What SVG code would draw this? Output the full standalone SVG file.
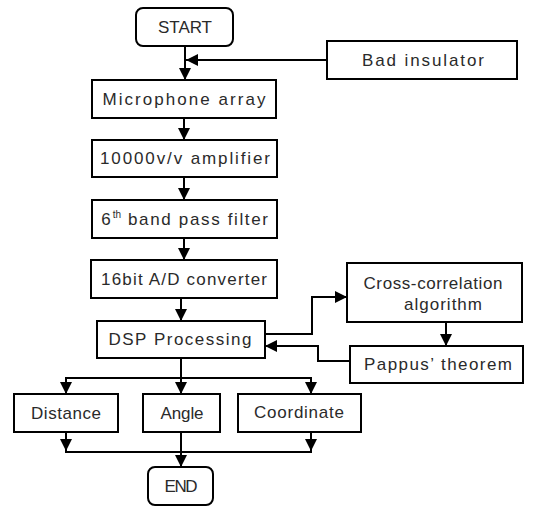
<svg xmlns="http://www.w3.org/2000/svg" width="534" height="513" viewBox="0 0 534 513">
<defs>
<marker id="ah" viewBox="0 0 12 12" refX="12" refY="6" markerWidth="12" markerHeight="12" markerUnits="userSpaceOnUse" orient="auto">
<path d="M0,0 L12,6 L0,12 Z" fill="#000"/>
</marker>
</defs>
<style>
.box{fill:#fff;stroke:#000;stroke-width:2}
.t{font-family:"Liberation Sans",Arial,sans-serif;font-size:17px;fill:#2a2a2a;text-anchor:middle;dominant-baseline:central}
.sup{font-size:10px}
.c{fill:none;stroke:#000;stroke-width:2}
</style>
<rect width="534" height="513" fill="#fff"/>
<g id="connectors">
<path class="c" d="M185,46 V80" marker-end="url(#ah)"/>
<path class="c" d="M327,60 H186" marker-end="url(#ah)"/>
<path class="c" d="M184,118 V140" marker-end="url(#ah)"/>
<path class="c" d="M184,177 V200" marker-end="url(#ah)"/>
<path class="c" d="M184,238 V260" marker-end="url(#ah)"/>
<path class="c" d="M181,298 V321" marker-end="url(#ah)"/>
<path class="c" d="M265,334 H312 V297 H347" marker-end="url(#ah)"/>
<path class="c" d="M446,322 V346" marker-end="url(#ah)"/>
<path class="c" d="M350,361 H318 V346 H265" marker-end="url(#ah)"/>
<path class="c" d="M181,358 V394" marker-end="url(#ah)"/>
<path class="c" d="M66,394 V378 H311 V394" marker-end="url(#ah)"/>
<path class="c" d="M66,378 V394" marker-end="url(#ah)"/>
<path class="c" d="M66,432 V452 H311 V432"/>
<path class="c" d="M66,432 V451" marker-end="url(#ah)"/>
<path class="c" d="M311,432 V451" marker-end="url(#ah)"/>
<path class="c" d="M181,432 V467" marker-end="url(#ah)"/>
</g>
<g id="start"><rect class="box" x="136" y="8" width="97" height="38" rx="7"/><text class="t" x="185" y="27" textLength="54" lengthAdjust="spacing">START</text></g>
<g id="bad"><rect class="box" x="327" y="41" width="190" height="38"/><text class="t" x="423" y="60" textLength="122" lengthAdjust="spacing">Bad insulator</text></g>
<g id="mic"><rect class="box" x="92" y="80" width="184" height="38"/><text class="t" x="184" y="99" textLength="163" lengthAdjust="spacing">Microphone array</text></g>
<g id="amp"><rect class="box" x="92" y="140" width="185" height="37"/><text class="t" x="185" y="158" textLength="170" lengthAdjust="spacing">10000v/v amplifier</text></g>
<g id="bpf"><rect class="box" x="92" y="200" width="185" height="38"/><text class="t" x="106" y="219">6</text><text class="t sup" x="117" y="214">th</text><text class="t" x="198" y="219" textLength="140" lengthAdjust="spacing">band pass filter</text></g>
<g id="adc"><rect class="box" x="91" y="260" width="186" height="38"/><text class="t" x="184" y="279" textLength="166" lengthAdjust="spacing">16bit A/D converter</text></g>
<g id="dsp"><rect class="box" x="97" y="321" width="168" height="37"/><text class="t" x="180" y="339" textLength="143" lengthAdjust="spacing">DSP Processing</text></g>
<g id="xcorr"><rect class="box" x="347" y="263" width="175" height="59"/><text class="t" x="433" y="283" textLength="139" lengthAdjust="spacing">Cross-correlation</text><text class="t" x="443" y="304" textLength="78" lengthAdjust="spacing">algorithm</text></g>
<g id="pappus"><rect class="box" x="350" y="346" width="173" height="37"/><text class="t" x="438" y="364" textLength="148" lengthAdjust="spacing">Pappus’ theorem</text></g>
<g id="distance"><rect class="box" x="14" y="394" width="104" height="38"/><text class="t" x="66" y="413" textLength="70" lengthAdjust="spacing">Distance</text></g>
<g id="angle"><rect class="box" x="143" y="394" width="77" height="38"/><text class="t" x="182" y="413" textLength="43" lengthAdjust="spacing">Angle</text></g>
<g id="coord"><rect class="box" x="238" y="394" width="123" height="38"/><text class="t" x="299" y="412" textLength="90" lengthAdjust="spacing">Coordinate</text></g>
<g id="end"><rect class="box" x="148" y="467" width="65" height="38" rx="7"/><text class="t" x="181" y="486" textLength="33" lengthAdjust="spacing">END</text></g>
</svg>
